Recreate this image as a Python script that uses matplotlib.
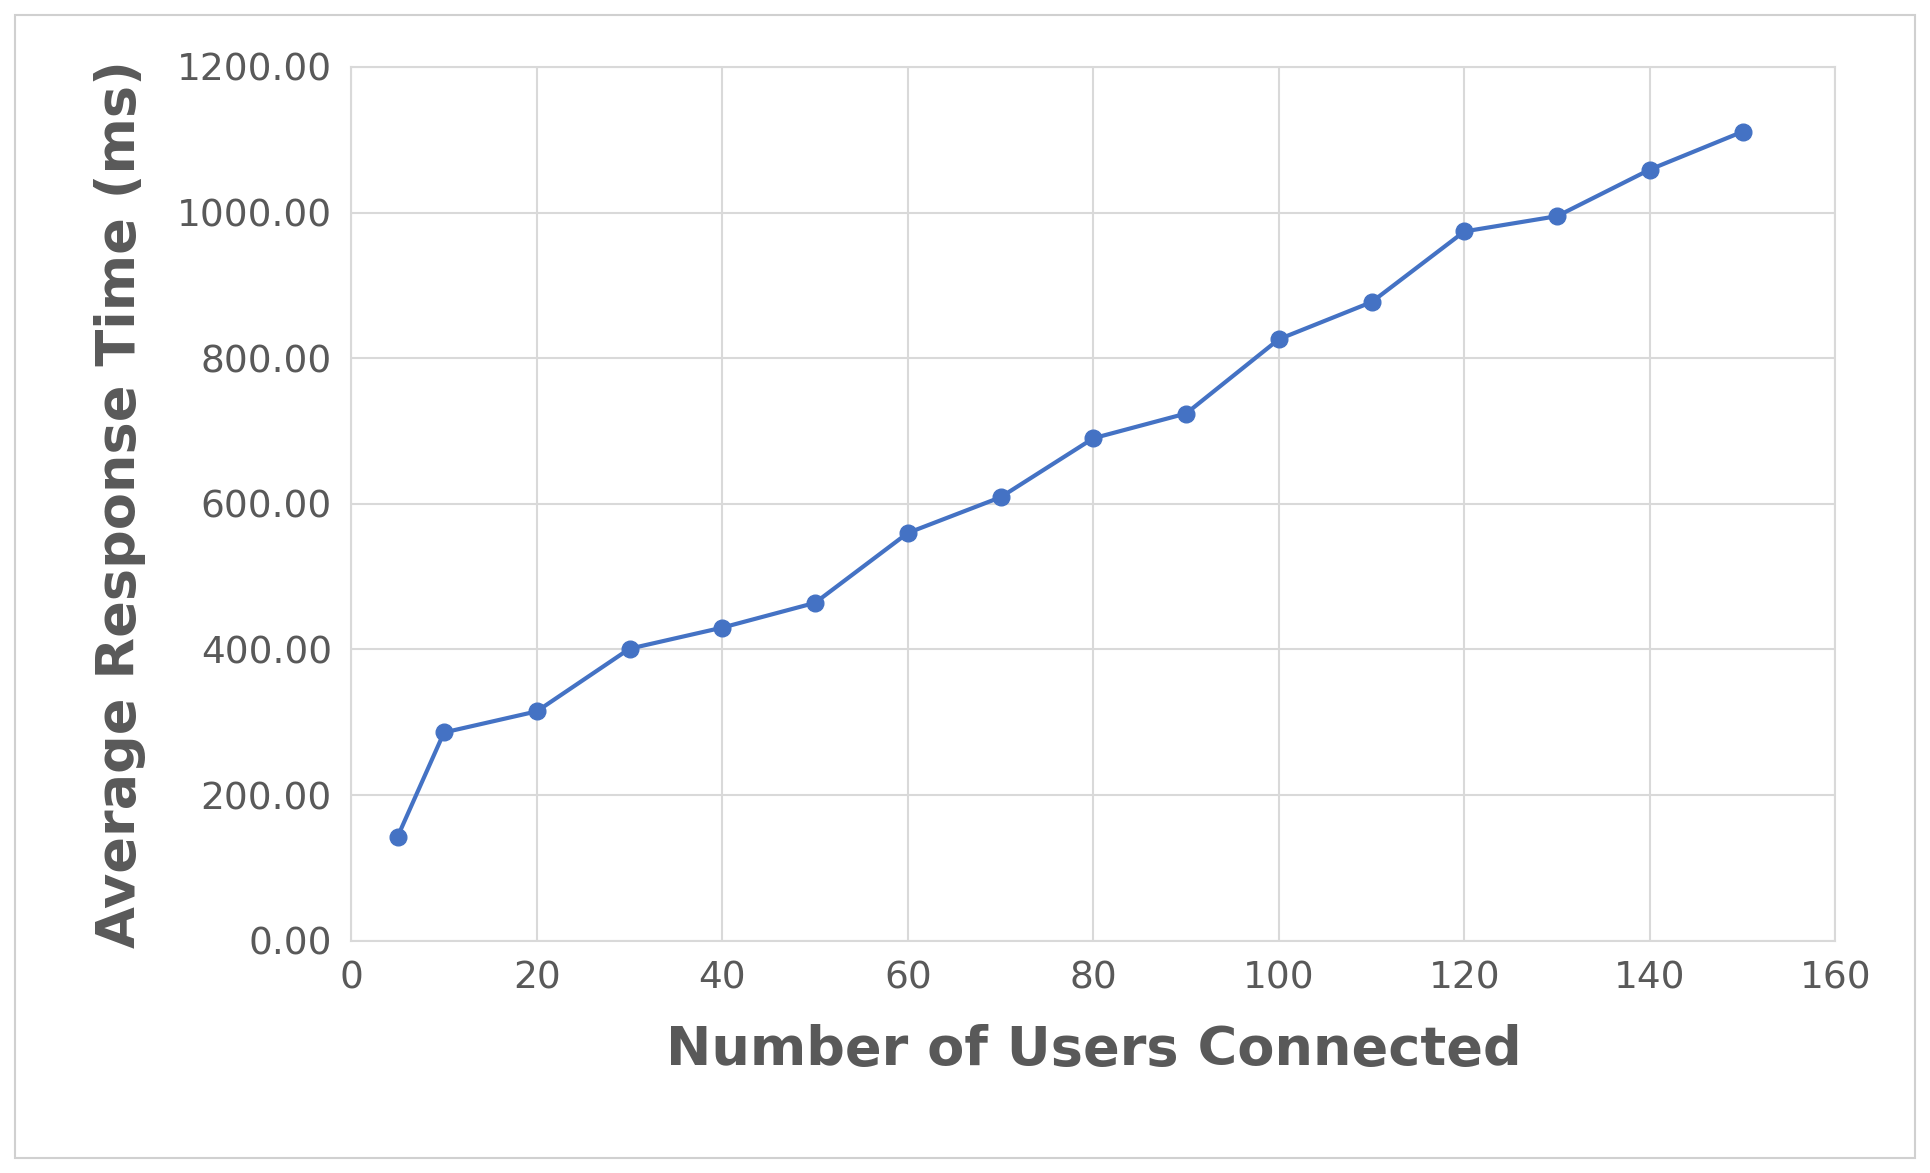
import matplotlib
matplotlib.use("Agg")
import matplotlib.pyplot as plt
from matplotlib.patches import Rectangle

users = [5, 10, 20, 30, 40, 50, 60, 70, 80, 90, 100, 110, 120, 130, 140, 150]
resp = [143, 286, 315, 401, 430, 464, 560, 609, 690, 724, 826, 877, 974, 995, 1059, 1111]
yticks = [0, 200, 400, 600, 800, 1000, 1200]
xticks = [0, 20, 40, 60, 80, 100, 120, 140, 160]

fig = plt.figure(figsize=(19.3, 11.73), dpi=100)
fig.patches.append(Rectangle((0.008, 0.013), 0.984, 0.974, transform=fig.transFigure,
                             fill=False, edgecolor="#d0d0d0", linewidth=1.5))
ax = fig.add_axes([0.182, 0.198, 0.769, 0.745])
ax.plot(users, resp, color="#4472C4", linewidth=3, marker="o", markersize=12, zorder=3)
ax.set_xlim(0, 160)
ax.set_ylim(0, 1200)
ax.set_xticks(xticks)
ax.set_yticks(yticks)
ax.set_yticklabels([f"{v:.2f}" for v in yticks])
ax.grid(True, color="#d9d9d9", linewidth=1.5)
ax.set_axisbelow(True)
for s in ax.spines.values():
    s.set_color("#d9d9d9"); s.set_linewidth(1.5)
ax.tick_params(length=0, labelsize=27, labelcolor="#595959", pad=14)
ax.set_xlabel("Number of Users Connected", fontsize=39, fontweight="heavy", color="#595959", labelpad=20)
ax.set_ylabel("Average Response Time (ms)", fontsize=39, fontweight="heavy", color="#595959", labelpad=22)
fig.savefig("out.png", dpi=100)
